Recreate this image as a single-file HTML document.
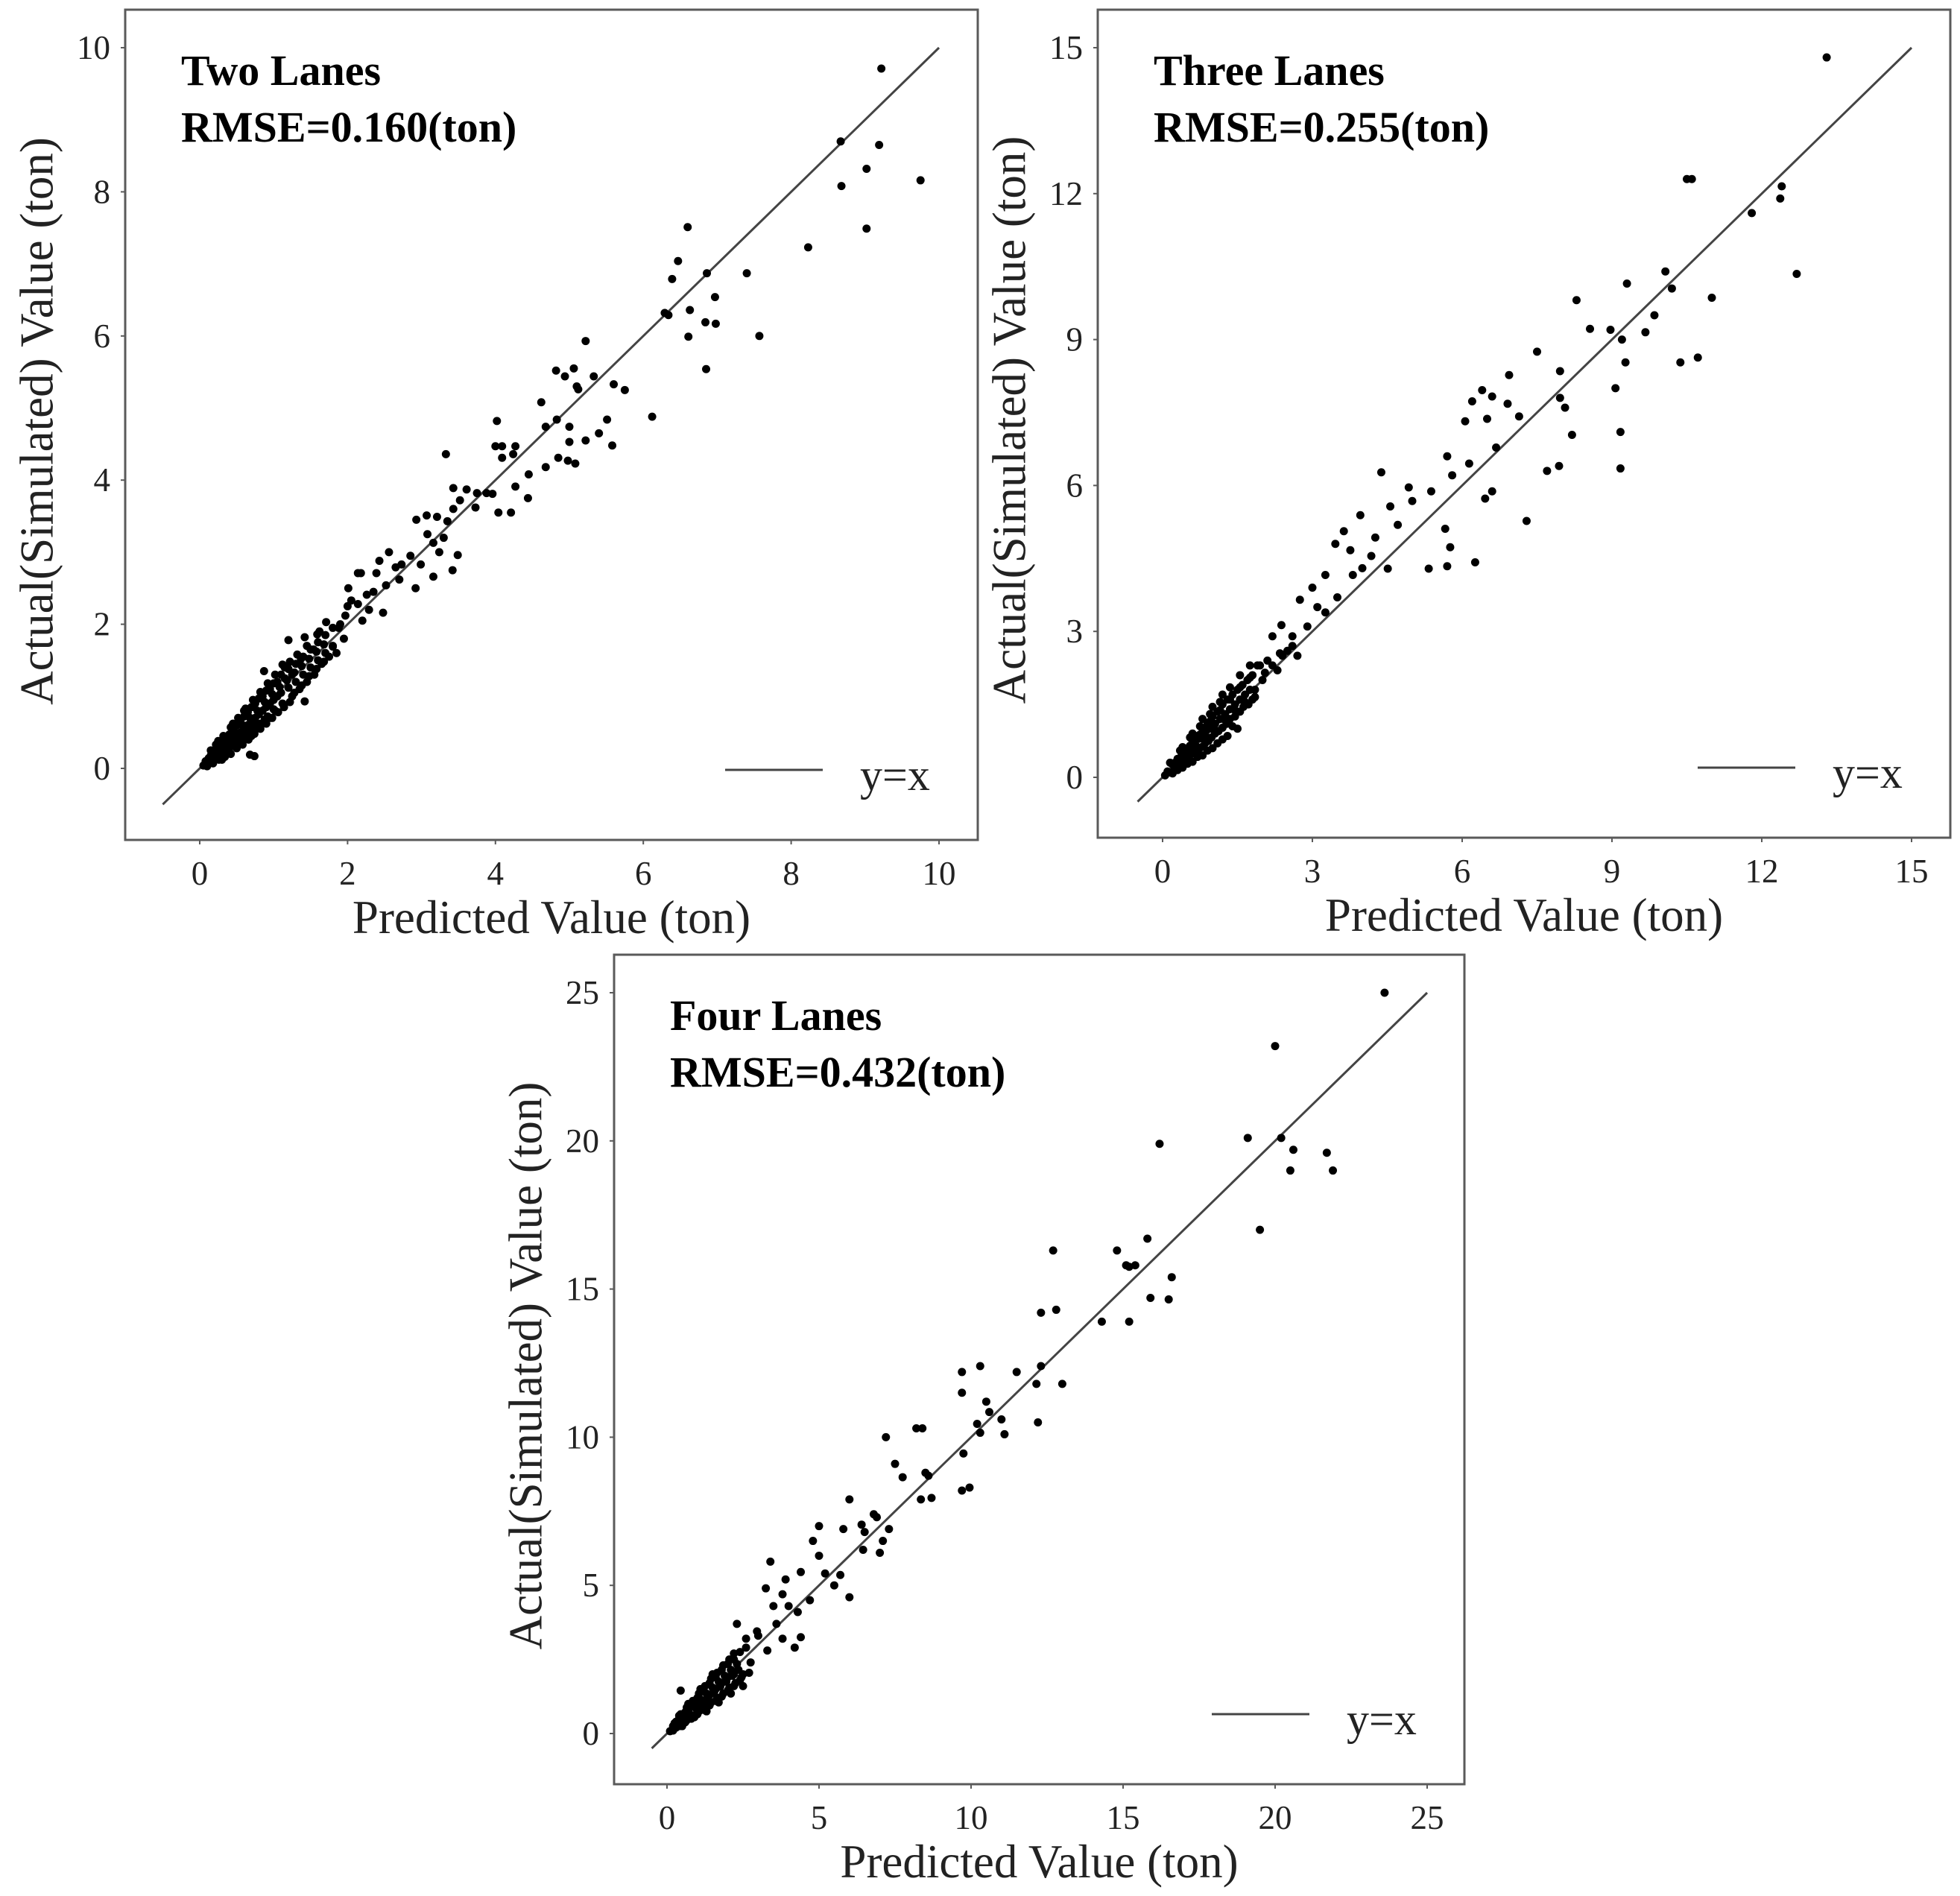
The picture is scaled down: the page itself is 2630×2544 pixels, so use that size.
<!DOCTYPE html>
<html><head><meta charset="utf-8"><style>
html,body{margin:0;padding:0;background:#fff;}
svg{display:block;font-family:"Liberation Serif",serif;}
</style></head><body>
<svg id="fig" width="2630" height="2544" viewBox="0 0 2630 2544" xmlns="http://www.w3.org/2000/svg"></svg>
<script>
// ---------- data ----------
const twoTicks = [0,2,4,6,8,10];
const threeTicks = [0,3,6,9,12,15];
const fourTicks = [0,5,10,15,20,25];
const twoTitle = "Two Lanes";
const twoRmse = "RMSE=0.160(ton)";
const threeTitle = "Three Lanes";
const threeRmse = "RMSE=0.255(ton)";
const fourTitle = "Four Lanes";
const fourRmse = "RMSE=0.432(ton)";

const twoPoints = [
[9.22,9.71],[8.67,8.70],[9.19,8.65],[9.02,8.32],[9.75,8.16],[8.68,8.08],[9.02,7.49],[8.23,7.23],
[6.60,7.51],[6.47,7.04],[6.39,6.79],[6.86,6.87],[7.40,6.87],[6.29,6.32],[6.34,6.29],[6.63,6.36],
[6.61,5.99],[6.84,6.19],[6.97,6.54],[6.98,6.17],[7.57,6.00],[6.85,5.54],[6.12,4.88],[5.22,5.93],
[4.82,5.52],[5.06,5.55],[4.94,5.44],[5.10,5.30],[5.12,5.26],[5.33,5.44],[5.60,5.33],[5.75,5.25],
[4.62,5.08],[4.68,4.74],[4.83,4.84],[5.51,4.84],[5.00,4.74],[5.40,4.65],[5.00,4.53],[5.22,4.55],
[5.58,4.48],[4.85,4.31],[4.98,4.27],[5.08,4.23],[4.68,4.18],[4.02,4.82],[3.33,4.36],[4.00,4.47],
[4.09,4.47],[4.27,4.47],[4.24,4.36],[4.09,4.31],[4.45,4.08],[4.27,3.91],[4.44,3.75],[4.04,3.55],
[4.21,3.55],[3.43,3.89],[3.61,3.87],[3.75,3.82],[3.88,3.82],[3.96,3.81],[3.73,3.62],[3.52,3.72],
[3.43,3.60],[2.93,3.45],[3.07,3.51],[3.21,3.49],[3.35,3.43],[3.16,3.13],[3.24,3.00],[3.49,2.96],
[3.42,2.75],[3.16,2.66],[2.99,2.83],[2.92,2.50],[2.73,2.83],[2.56,3.00],[2.43,2.88],[2.65,2.79],
[2.39,2.71],[2.52,2.54],[2.18,2.71],[2.01,2.50],[2.14,2.71],[2.26,2.41],[2.05,2.33],[2.29,2.20],
[2.48,2.16],[1.97,2.12],[2.14,2.28],[1.88,1.95],[1.71,2.03],[1.59,1.86],[1.80,1.69],[1.20,1.78],
[1.42,1.82],[1.54,1.65],[1.37,1.52],[1.12,1.44],[1.42,0.93],[0.87,1.35],[0.74,0.17],[0.68,0.19],
[3.08,3.25],[3.30,3.20],[2.85,2.95],[2.70,2.62],[2.35,2.45],[2.20,2.05],[1.95,1.80],[2.00,2.25],
[0.05,0.04],[0.08,0.10],[0.10,0.07],[0.12,0.14],[0.15,0.10],[0.15,0.18],[0.18,0.13],[0.20,0.24],
[0.20,0.15],[0.22,0.19],[0.25,0.30],[0.25,0.18],[0.28,0.22],[0.30,0.36],[0.30,0.25],[0.32,0.20],
[0.35,0.42],[0.35,0.30],[0.38,0.26],[0.40,0.47],[0.40,0.36],[0.42,0.30],[0.45,0.53],[0.45,0.40],
[0.48,0.34],[0.50,0.60],[0.50,0.45],[0.52,0.38],[0.55,0.66],[0.55,0.50],[0.58,0.42],[0.60,0.72],
[0.60,0.55],[0.62,0.46],[0.65,0.78],[0.65,0.60],[0.68,0.50],[0.70,0.85],[0.70,0.65],[0.72,0.55],
[0.75,0.90],[0.75,0.70],[0.78,0.60],[0.80,0.97],[0.80,0.75],[0.82,0.62],[0.85,1.00],[0.85,0.80],
[0.88,0.68],[0.90,1.08],[0.90,0.85],[0.92,0.72],[0.95,1.10],[0.95,0.90],[1.00,1.18],[1.00,0.95],
[1.02,0.80],[1.05,1.20],[1.05,1.00],[1.10,1.30],[1.10,1.05],[1.12,0.90],[1.15,1.25],[1.20,1.38],
[1.20,1.12],[1.25,1.00],[1.25,1.30],[1.30,1.45],[1.30,1.20],[1.35,1.10],[1.40,1.55],[1.40,1.30],
[1.45,1.20],[1.50,1.65],[1.50,1.40],[1.55,1.30],[1.60,1.75],[1.60,1.50],[1.65,1.45],[1.70,1.85],
[1.70,1.60],[1.75,1.55],[1.80,1.95],[1.80,1.70],[1.85,1.60],[1.90,2.00],[0.30,0.12],[0.70,0.45],
[0.55,0.35],[0.40,0.22],[0.95,0.70],[1.15,1.40],[0.60,0.80],[0.45,0.62],[0.25,0.38],[1.00,0.82],
[0.10,0.03],[0.18,0.07],[0.26,0.12],[0.34,0.16],[0.42,0.20],[0.50,0.28],[0.58,0.33],[0.66,0.40],
[0.74,0.48],[0.82,0.55],[0.90,0.62],[0.98,0.70],[1.06,0.78],[1.14,0.85],[1.22,0.92],[0.15,0.25],
[0.22,0.33],[0.32,0.45],[0.42,0.57],[0.52,0.70],[0.62,0.83],[0.72,0.95],[0.82,1.06],[0.92,1.18],
[1.02,1.30],[0.38,0.40],[0.48,0.50],[0.58,0.60],[0.68,0.70],[0.78,0.80],[0.88,0.92],[0.98,1.03],
[1.08,1.13],[1.18,1.22],[1.28,1.33],[1.38,1.42],[1.48,1.52],[1.58,1.62],[1.68,1.72],[1.28,1.05],
[1.38,1.15],[1.48,1.28],[1.58,1.38],[1.68,1.48],[1.22,1.48],[1.32,1.58],[1.45,1.70],[1.62,1.90]
];

const threePoints = [
[13.3,14.8],[10.5,12.3],[10.6,12.3],[12.4,12.15],[12.37,11.9],[11.8,11.6],[12.7,10.35],[11.0,9.86],
[10.07,10.4],[9.3,10.15],[10.2,10.05],[9.85,9.5],[9.67,9.15],[10.37,8.53],[10.72,8.63],[8.97,9.2],
[9.2,9.0],[9.27,8.53],[9.07,8.0],[9.17,7.1],[9.17,6.35],[8.29,9.81],[8.56,9.22],[7.96,8.35],
[7.96,7.8],[8.06,7.6],[8.2,7.04],[7.94,6.4],[7.7,6.3],[7.5,8.75],[6.94,8.27],[6.6,7.83],
[6.4,7.96],[6.2,7.73],[6.91,7.68],[7.14,7.42],[6.5,7.37],[6.68,6.78],[6.06,7.32],[6.6,5.88],
[6.46,5.73],[7.29,5.27],[6.26,4.42],[5.7,4.34],[5.7,6.6],[6.14,6.45],[5.8,6.21],[5.38,5.88],
[5.66,5.11],[5.76,4.73],[5.33,4.29],[5.0,5.68],[4.93,5.96],[4.38,6.27],[4.56,5.57],[4.71,5.19],
[4.26,4.93],[4.18,4.55],[4.51,4.29],[3.96,5.39],[3.63,5.06],[3.46,4.8],[3.81,4.16],[3.26,4.16],
[3.0,3.9],[2.75,3.65],[2.38,3.13],[3.26,3.39],[3.76,4.67],[4.0,4.3],[3.5,3.7],[3.1,3.5],
[2.9,3.1],[2.6,2.9],[2.5,2.6],[2.2,2.9],[2.1,2.4],[2.3,2.2],[2.7,2.5],[1.9,2.3],[2.0,2.0],[1.8,1.6],
[0.05,0.04],[0.1,0.12],[0.15,0.1],[0.2,0.26],[0.25,0.17],[0.3,0.38],[0.32,0.22],[0.38,0.3],
[0.4,0.5],[0.45,0.33],[0.5,0.6],[0.52,0.4],[0.58,0.48],[0.6,0.75],[0.65,0.5],[0.7,0.85],
[0.72,0.58],[0.78,0.62],[0.8,1.0],[0.85,0.7],[0.9,1.1],[0.92,0.75],[0.98,0.82],[1.0,1.25],
[1.05,0.9],[1.1,1.35],[1.12,0.95],[1.2,1.02],[1.2,1.5],[1.28,1.1],[1.3,1.6],[1.35,1.2],
[1.4,1.7],[1.45,1.25],[1.5,1.8],[1.55,1.35],[1.6,1.9],[1.62,1.45],[1.7,2.0],[1.72,1.5],
[1.8,2.1],[1.85,1.65],[1.95,2.3],[0.3,0.15],[0.5,0.28],[0.7,0.42],[0.9,0.55],[1.1,0.7],
[1.3,0.85],[0.4,0.62],[0.6,0.9],[0.8,1.2],[1.0,1.45],[1.2,1.7],[0.25,0.3],[0.45,0.48],
[0.65,0.68],[0.85,0.9],[1.05,1.1],[1.25,1.3],[1.45,1.5],[1.65,1.7],[0.55,0.55],[0.75,0.8],
[0.95,1.0],[1.15,1.2],[1.35,1.4],[1.55,1.6],[1.75,1.8],[2.2,2.3],[2.4,2.5],[2.6,2.7],[1.4,1.05],
[0.2,0.08],[0.4,0.2],[0.6,0.32],[0.8,0.45],[1.0,0.6],[1.2,0.78],[1.5,1.0],[0.15,0.3],[0.35,0.55],
[0.55,0.82],[0.75,1.05],[0.95,1.3],[1.15,1.55],[1.35,1.85],[1.55,2.1],[1.75,2.3],[0.35,0.4],
[0.55,0.65],[0.75,0.88],[0.95,1.15],[1.15,1.38],[1.35,1.6],[1.55,1.85],[1.75,2.05],[0.65,0.6],
[0.85,0.78],[1.05,0.98],[1.25,1.18],[1.45,1.38],[1.65,1.55],[1.85,1.8],[2.05,2.15],[2.35,2.55]
];

const fourPoints = [
[23.6,25.0],[20.0,23.2],[19.1,20.1],[20.2,20.1],[20.6,19.7],[20.5,19.0],[21.7,19.6],[21.9,19.0],
[19.5,17.0],[16.2,19.9],[14.8,16.3],[15.8,16.7],[15.1,15.8],[15.2,15.75],[15.4,15.8],[16.6,15.4],
[15.9,14.7],[16.5,14.65],[15.2,13.9],[14.3,13.9],[12.7,16.3],[12.3,14.2],[12.8,14.3],[13.0,11.8],
[12.3,12.4],[12.15,11.8],[12.2,10.5],[11.5,12.2],[10.3,12.4],[9.7,12.2],[9.7,11.5],[10.5,11.2],
[10.2,10.45],[10.6,10.85],[11.0,10.6],[11.1,10.1],[10.3,10.15],[9.75,9.45],[9.7,8.2],[9.95,8.3],
[7.2,10.0],[8.2,10.3],[8.4,10.3],[8.5,8.8],[8.6,8.7],[7.5,9.1],[7.75,8.65],[8.35,7.9],[8.7,7.95],
[5.8,6.9],[6.4,7.05],[6.8,7.4],[7.1,6.5],[6.45,6.2],[5.7,5.35],[4.7,4.5],[4.3,4.1],[5.0,6.0],
[5.2,5.4],[4.4,5.45],[3.8,4.7],[3.4,5.8],[3.25,4.9],[3.6,3.7],[4.4,3.25],[2.96,3.45],[2.75,2.4],
[2.3,3.7],[6.9,7.3],[7.3,6.9],[7.0,6.1],[6.5,6.8],[6.0,7.9],[5.0,7.0],[4.8,6.5],[5.5,5.0],[6.0,4.6],
[4.0,4.3],[3.9,5.2],[3.5,4.3],[3.0,3.3],[3.3,2.8],[2.6,3.2],[2.2,2.7],[2.5,2.0],[3.8,3.2],[4.2,2.9],
[0.1,0.08],[0.2,0.25],[0.3,0.2],[0.4,0.5],[0.5,0.35],[0.6,0.72],[0.65,0.45],[0.8,0.95],
[0.85,0.6],[1.0,1.2],[1.05,0.75],[1.2,1.45],[1.25,0.9],[1.4,1.7],[1.45,1.05],[1.6,1.9],
[1.65,1.2],[1.8,2.15],[1.85,1.35],[2.0,2.35],[2.05,1.55],[2.2,2.5],[2.25,1.7],[2.4,2.75],
[2.45,1.9],[2.6,2.9],[2.7,2.05],[0.3,0.4],[0.5,0.55],[0.7,0.75],[0.9,0.95],[1.1,1.15],
[1.3,1.35],[1.5,1.55],[1.7,1.75],[1.9,1.95],[2.1,2.15],[2.3,2.35],[0.5,0.25],[0.9,0.55],
[1.3,0.75],[1.7,1.05],[2.1,1.35],[2.5,1.6],[0.7,1.0],[1.1,1.5],[1.5,2.0],[0.4,0.6],
[1.0,1.05],[1.4,1.3],[1.8,1.7],[2.2,2.0],[0.6,0.6],[1.2,1.1],[1.6,1.5],[2.0,1.9],[0.45,1.45],
[0.2,0.1],[0.4,0.25],[0.6,0.38],[0.8,0.5],[1.0,0.65],[1.2,0.8],[1.4,0.95],[1.6,1.1],[1.8,1.25],
[2.0,1.45],[2.2,1.6],[2.4,1.8],[0.25,0.35],[0.45,0.65],[0.65,0.88],[0.85,1.1],[1.05,1.35],
[1.25,1.6],[1.45,1.85],[1.65,2.05],[1.85,2.3],[2.05,2.5],[0.35,0.3],[0.55,0.48],[0.75,0.65],
[0.95,0.85],[1.15,1.0],[1.35,1.2],[1.55,1.38],[1.75,1.58],[1.95,1.75],[2.15,1.95],[2.35,2.15]
];

// ---------- drawing ----------
const NS = "http://www.w3.org/2000/svg";
const svg = document.getElementById("fig");
function mk(tag, attrs, parent){
  const el = document.createElementNS(NS, tag);
  for (const k in attrs) el.setAttribute(k, attrs[k]);
  (parent||svg).appendChild(el);
  return el;
}

function panel(cfg){
  const g = mk("g", {});
  
  
  const xs = v => cfg.x0 + v * (cfg.x1 - cfg.x0) / cfg.max;
  const ys = v => cfg.y0 - v * (cfg.y0 - cfg.y1) / cfg.max;
  const L = cfg.box[0], T = cfg.box[1], R = cfg.box[2], B = cfg.box[3];

  const frame = mk("rect", {x:L, y:T, width:R-L, height:B-T, fill:"#fff", stroke:"#5a5a5a", "stroke-width":3}, g);
  
  

  cfg.ticks.forEach(t => {
    const tx = mk("line", {x1:xs(t), x2:xs(t), y1:B, y2:B+6, stroke:"#5a5a5a", "stroke-width":2}, g);
    
    
    const lx = mk("text", {x:xs(t), y:B+60, "font-size":45, fill:"#222", "text-anchor":"middle"}, g);
    lx.textContent = t;
    
    
    const ty = mk("line", {x1:L-6, x2:L, y1:ys(t), y2:ys(t), stroke:"#5a5a5a", "stroke-width":2}, g);
    
    
    const ly = mk("text", {x:L-20, y:ys(t)+15, "font-size":45, fill:"#222", "text-anchor":"end"}, g);
    ly.textContent = t;
    
    
  });

  const ref = mk("line", {x1:xs(-0.5), y1:ys(-0.5), x2:xs(cfg.max), y2:ys(cfg.max), stroke:"#444", "stroke-width":3}, g);
  
  

  cfg.points.forEach(p => {
    const c = mk("circle", {cx:xs(p[0]), cy:ys(p[1]), r:5.5, fill:"#000"}, g);
    
    
  });

  const t1 = mk("text", {x:L+75, y:T+101, "font-size":58, "font-weight":"bold", fill:"#000"}, g);
  t1.textContent = cfg.title;
  
  
  const t2 = mk("text", {x:L+75, y:T+177, "font-size":58, "font-weight":"bold", fill:"#000"}, g);
  t2.textContent = cfg.rmse;
  
  

  const ll = mk("line", {x1:R-339, x2:R-208, y1:B-94, y2:B-94, stroke:"#444", "stroke-width":3}, g);
  
  
  const lt = mk("text", {x:R-158, y:B-67, "font-size":60, fill:"#222"}, g);
  lt.textContent = "y=x";
  
  

  const xt = mk("text", {x:(L+R)/2, y:B+125, "font-size":63, fill:"#222", "text-anchor":"middle"}, g);
  xt.textContent = "Predicted Value (ton)";
  
  
  const cy = (T+B)/2 - 5, cx = L-112;
  const yt = mk("text", {x:cx, y:cy, "font-size":63, fill:"#222", "text-anchor":"middle", "dominant-baseline":"middle", transform:"rotate(-90 "+cx+" "+cy+")"}, g);
  yt.textContent = "Actual(Simulated) Value (ton)";
  
  
}

panel({name:"two-lanes-panel", box:[168,13,1312,1127], x0:268, x1:1260, y0:1031, y1:64, max:10,
  ticks:twoTicks, points:twoPoints, title:twoTitle, rmse:twoRmse});
panel({name:"three-lanes-panel", box:[1473,13,2617,1124], x0:1560, x1:2565, y0:1043, y1:64, max:15,
  ticks:threeTicks, points:threePoints, title:threeTitle, rmse:threeRmse});
panel({name:"four-lanes-panel", box:[824,1281,1965,2394], x0:895, x1:1915, y0:2326, y1:1332, max:25,
  ticks:fourTicks, points:fourPoints, title:fourTitle, rmse:fourRmse});
</script>
</body></html>
